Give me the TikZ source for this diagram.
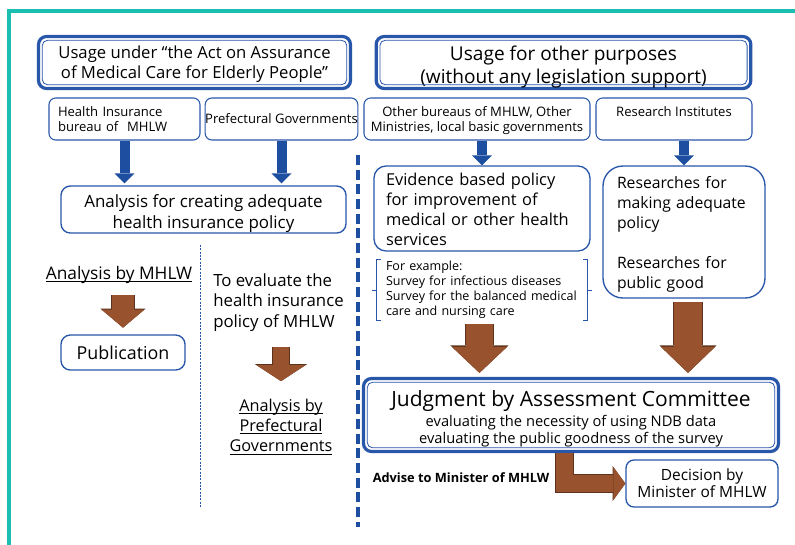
\documentclass[tikz,border=0pt]{standalone}
\usepackage{fontspec}
\setmainfont{Open Sans}
\usetikzlibrary{arrows.meta,positioning}

\definecolor{frameteal}{RGB}{28,190,178}
\definecolor{boxblue}{RGB}{40,86,168}
\definecolor{arrowblue}{RGB}{30,78,160}
\definecolor{brownfill}{RGB}{152,82,46}
\definecolor{browndark}{RGB}{92,50,28}

\begin{document}
\begin{tikzpicture}[x=0.75pt, y=-0.75pt, every node/.style={align=center, inner sep=0pt, text=black}]
    % styles
    \tikzstyle{titlebox} = [rectangle, rounded corners=6pt, draw=boxblue, line width=2.4pt, fill=white, minimum height=39pt, font=\fontsize{12.5}{15.5}\selectfont]
    \tikzstyle{innerline} = [draw=boxblue, line width=0.6pt, rounded corners=4pt]
    \tikzstyle{smallbox} = [rectangle, rounded corners=5pt, draw=boxblue, line width=0.8pt, minimum height=31.5pt, font=\fontsize{9.8}{11.25}\selectfont]
    \tikzstyle{midbox} = [rectangle, rounded corners=7pt, draw=boxblue, line width=1pt, font=\fontsize{12.3}{15.1}\selectfont]
    \tikzstyle{plain} = [font=\fontsize{12.2}{15.2}\selectfont]
    \tikzstyle{barrow} = [draw=arrowblue, line width=7.5pt, -{Triangle[width=15pt, length=7.5pt, line width=0pt]}]
    \tikzset{brarrow/.style n args={3}{draw=brownfill, line width=#1, line join=miter,
        -{Triangle[width=#2, length=#3, line width=0pt]},
        preaction={draw=browndark, line width=#1+1.4pt, -{Triangle[width=#2, length=#3, line width=0pt, scale=1.06]}}}}

    \useasboundingbox (0,0) rectangle (795,544);
    \draw[frameteal, line width=2.4pt] (9,546) -- (9,11) -- (797,11);

    % titles
    \node[titlebox, minimum width=234pt] (tl) at (194.5,62.5) {\rule{0pt}{12pt}Usage under “the Act on Assurance\\of Medical Care for Elderly People”};
    \node[titlebox, minimum width=281pt, font=\fontsize{14.3}{17.5}\selectfont] (tr) at (563.5,62.5) {\rule{0pt}{17.5pt}Usage for other purposes\\(without any legislation support)};

    % users
    \node[smallbox, minimum width=113.25pt, text width=99.75pt, align=left] (hi) at (124.5,119) {Health Insurance\\bureau of\ \ MHLW};
    \node[smallbox, minimum width=105.75pt] (pg) at (281.5,119) {Prefectural Governments};
    \node[smallbox, minimum width=169.5pt] (ob) at (477,119) {\rule{0pt}{10.5pt}Other bureaus of MHLW, Other\\Ministries, local basic governments};
    \node[smallbox, minimum width=117pt] (ri) at (674,119) {Research Institutes\\~};

    % left side
    \node[midbox, minimum width=213.75pt, minimum height=35.25pt, font=\fontsize{12.7}{15.8}\selectfont] (ana) at (203.5,209.5) {\rule{0pt}{16pt}Analysis for creating adequate\\health insurance policy};
    \node[font=\fontsize{13}{15}\selectfont] (mhlw) at (119,281) {\underline{\smash{Analysis by MHLW}}};
    \node[midbox, minimum width=93pt, minimum height=26.25pt, font=\fontsize{13.4}{15}\selectfont] (pub) at (123,352.5) {Publication};
    \node[plain, font=\fontsize{12.6}{15.4}\selectfont, align=left, anchor=west] (eval) at (213,302.5) {To evaluate the\\health insurance\\policy of MHLW};
    \node[plain] (apg) at (281,433) {\underline{\smash{Analysis by}}\\\underline{\smash{Prefectural}}\\\underline{\smash{Governments}}};

    % right side
    \node[midbox, rounded corners=9pt, minimum width=162pt, minimum height=63.75pt, text width=144pt, align=left] (ev) at (482,208.5) {\rule{0pt}{11pt}Evidence based policy\\for improvement of\\medical or other health\\services};
    \node[below=5.5pt of ev, minimum width=157.5pt, minimum height=46pt, text width=144pt, align=left, font=\fontsize{9.4}{11.25}\selectfont] (ex) {For example:\\Survey for infectious diseases\\Survey for the balanced medical\\care and nursing care};
    \node[midbox, rounded corners=15pt, minimum width=121.5pt, minimum height=99pt, text width=100.5pt, align=left, font=\fontsize{11.8}{15}\selectfont] (rs) at (684,232) {\rule{0pt}{12pt}Researches for\\making adequate\\policy\\[15pt]Researches for\\public good};

    % judgment
    \node[titlebox, minimum width=311.25pt, minimum height=54.75pt, font=\fontsize{11}{12.75}\selectfont] (judge) at (571,415) {{\fontsize{15.75}{19}\selectfont\rule{0pt}{18pt}Judgment by Assessment Committee}\\[2.5pt]evaluating the necessity of using NDB data\\evaluating the public goodness of the survey};
    \node[font=\bfseries\fontsize{9.6}{10}\selectfont] (adv) at (461,478) {Advise to Minister of MHLW};
    \node[midbox, rounded corners=6pt, minimum width=114pt, minimum height=35.25pt, font=\fontsize{11.6}{13}\selectfont] (dec) at (702,483.5) {Decision by\\Minister of MHLW};

    \foreach \n in {tl,tr,judge}
        \draw[innerline] ([shift={(4pt,-4pt)}]\n.north west) rectangle ([shift={(-4pt,4pt)}]\n.south east);

    % brackets
    \draw[boxblue, line width=0.6pt] ([xshift=3pt]ex.north west) -- (ex.north west) -- (ex.south west) -- ([xshift=3pt]ex.south west) (ex.west) -- ++(-3.5pt,0);
    \draw[boxblue, line width=0.6pt] ([xshift=-3pt]ex.north east) -- (ex.north east) -- (ex.south east) -- ([xshift=-3pt]ex.south east) (ex.east) -- ++(3.5pt,0);

    % dividers
    \draw[boxblue, line width=0.7pt, dash pattern=on 1.5pt off 1pt] (200,245) -- (200,507);
    \draw[arrowblue, line width=3.2pt, dash pattern=on 7.5pt off 3.5pt] (358,155) -- (358,527);

    % arrows
    \draw[barrow] (hi.south) -- ([yshift=1.5pt]hi.south |- ana.north);
    \draw[barrow] (pg.south) -- ([yshift=1.5pt]pg.south |- ana.north);
    \draw[barrow] (ev.north |- ob.south) -- (ev.north);
    \draw[barrow] (rs.north |- ri.south) -- (rs.north);
    \draw[brarrow={16.5pt}{32pt}{13.5pt}, shorten <=9.5pt, shorten >=5pt] (mhlw.south -| pub.north) -- (pub.north);
    \draw[brarrow={11.75pt}{36.75pt}{12pt}, shorten <=11.5pt, shorten >=22.5pt] (apg.north |- eval.south) -- (apg.north);
    \draw[brarrow={20.25pt}{41.25pt}{19.5pt}, shorten <=2.25pt, shorten >=3pt] ([xshift=-1.9pt]ex.south) -- ([xshift=-1.9pt]ex.south |- judge.north);
    \draw[brarrow={21pt}{40.5pt}{19.5pt}, shorten <=2.6pt, shorten >=3pt] ([xshift=3pt]rs.south) -- ([xshift=3pt]rs.south |- judge.north);
    \draw[brarrow={12.75pt}{24.75pt}{9pt}] ([xshift=-4.9pt]judge.south) |- (dec.west);
\end{tikzpicture}
\end{document}
